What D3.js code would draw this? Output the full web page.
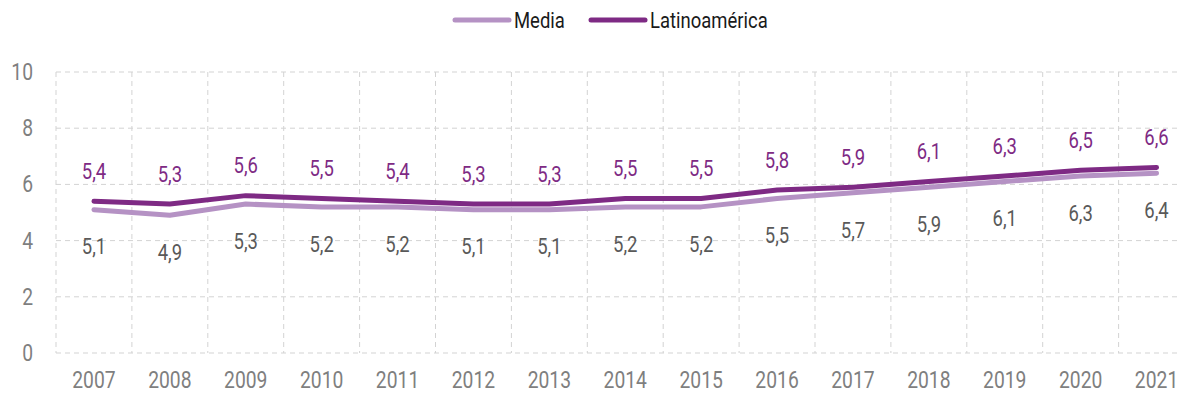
<!DOCTYPE html>
<html>
<head>
<meta charset="utf-8">
<script src="https://cdnjs.cloudflare.com/ajax/libs/d3/7.8.5/d3.min.js"></script>
<style>
  body { margin: 0; background: #fff; }
  svg { font-family: Roboto, "DejaVu Sans Condensed", sans-serif; }
  .grid line { stroke: #d3d3d3; stroke-dasharray: 5,4; stroke-width: 1; }
</style>
</head>
<body>
<div id="chart"></div>
<script>
const years = ["2007", "2008", "2009", "2010", "2011", "2012", "2013", "2014",
  "2015", "2016", "2017", "2018", "2019", "2020", "2021"];
const media = [5.1, 4.9, 5.3, 5.2, 5.2, 5.1, 5.1, 5.2, 5.2, 5.5, 5.7, 5.9, 6.1, 6.3, 6.4];
const latam = [5.4, 5.3, 5.6, 5.5, 5.4, 5.3, 5.3, 5.5, 5.5, 5.8, 5.9, 6.1, 6.3, 6.5, 6.6];
const yTicks = [0, 2, 4, 6, 8, 10];

const width = 1180;
const height = 400;

const colMedia = "#b592c4";
const colLatam = "#7e2a84";
const squeeze = 0.84; // narrow the font, the original uses a condensed face

const svg = d3.select("#chart")
  .append("svg")
  .attr("width", width)
  .attr("height", height);

// band runs past the right edge, like the original
const x = d3.scaleBand()
  .domain(years)
  .range([56, 56 + 15 * 75.9]);

const y = d3.scaleLinear()
  .domain([0, 10])
  .range([353, 72]);

const cx = d => x(d) + x.bandwidth() / 2;

// draws condensed text at (px, py)
function label(g, px, py, txt, opts) {
  g.append("text")
    .attr("transform", `translate(${px},${py}) scale(${squeeze},1)`)
    .attr("dy", "0.35em")
    .attr("text-anchor", opts.anchor || "middle")
    .attr("fill", opts.color)
    .style("font-size", opts.size + "px")
    .text(txt);
}

// grid
const grid = svg.append("g").attr("class", "grid");
grid.selectAll(".h")
  .data(yTicks)
  .enter().append("line")
  .attr("x1", x.range()[0])
  .attr("x2", x.range()[1])
  .attr("y1", d => y(d))
  .attr("y2", d => y(d));
grid.selectAll(".v")
  .data(years)
  .enter().append("line")
  .attr("x1", d => x(d))
  .attr("x2", d => x(d))
  .attr("y1", y(10))
  .attr("y2", y(0));

// axis labels
const yLab = svg.append("g");
yTicks.forEach(t => label(yLab, 33, y(t), t, { anchor: "end", color: "#7f7f7f", size: 23 }));

const xLab = svg.append("g");
years.forEach(yr => label(xLab, cx(yr), 380, yr, { color: "#7f7f7f", size: 23 }));

const line = d3.line()
  .x((d, i) => cx(years[i]))
  .y(d => y(d));

svg.append("path")
  .datum(media)
  .attr("d", line)
  .attr("fill", "none")
  .attr("stroke", colMedia)
  .attr("stroke-width", 5)
  .attr("stroke-linecap", "round")
  .attr("stroke-linejoin", "round");

svg.append("path")
  .datum(latam)
  .attr("d", line)
  .attr("fill", "none")
  .attr("stroke", colLatam)
  .attr("stroke-width", 5)
  .attr("stroke-linecap", "round")
  .attr("stroke-linejoin", "round");

const fmt = v => v.toFixed(1).replace(".", ",");

// data labels
const lab = svg.append("g");
latam.forEach((v, i) => label(lab, cx(years[i]), y(v) - 30, fmt(v), { color: colLatam, size: 22 }));
media.forEach((v, i) => label(lab, cx(years[i]), y(v) + 37, fmt(v), { color: "#595959", size: 22 }));

// legend
const legendItems = [
  { name: "Media", color: colMedia, x: 455 },
  { name: "Latinoamérica", color: colLatam, x: 591 }
];
const legend = svg.append("g").attr("class", "legend");
legendItems.forEach(item => {
  legend.append("line")
    .attr("x1", item.x)
    .attr("x2", item.x + 54)
    .attr("y1", 20)
    .attr("y2", 20)
    .attr("stroke", item.color)
    .attr("stroke-width", 5)
    .attr("stroke-linecap", "round");
  label(legend, item.x + 59, 20, item.name, { anchor: "start", color: "#1a1a1a", size: 22 });
});
</script>
</body>
</html>
